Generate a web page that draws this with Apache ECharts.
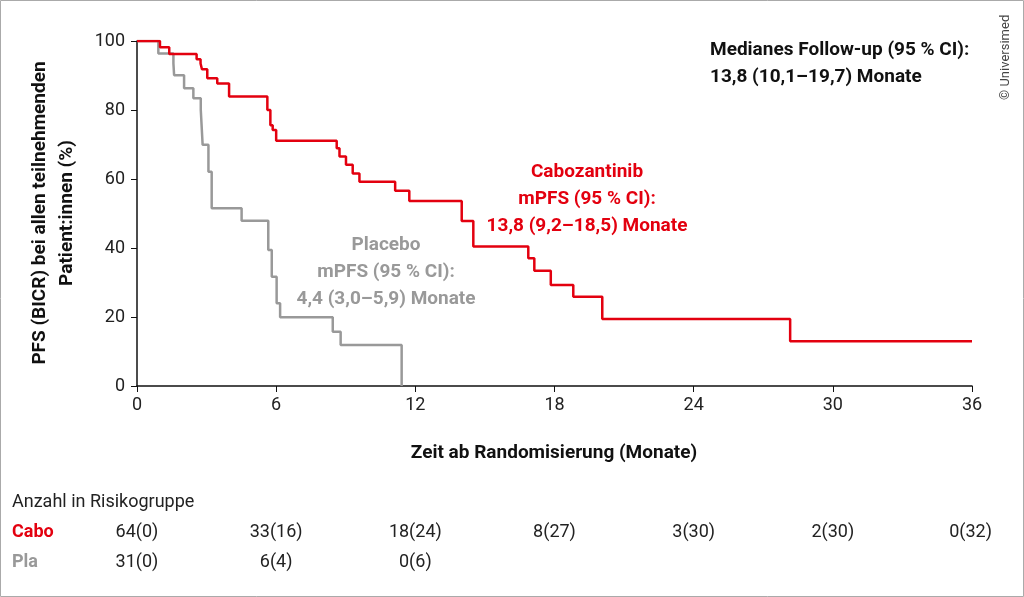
<!DOCTYPE html><html><head><meta charset="utf-8"><script src="https://cdn.jsdelivr.net/npm/echarts@6/dist/echarts.min.js"></script>
<style>body{margin:0}#c{width:1024px;height:597px}</style></head><body><div id="c"></div><script>
const caboT=[0,0.99,1.39,2.57,2.74,2.8,3.03,3.46,3.97,5.62,5.75,5.85,6.0,8.61,8.73,9.01,9.3,9.59,11.13,11.74,14.0,14.5,16.87,17.13,17.84,18.81,20.06,28.16,36];
const caboS=[100,98.2,96.2,94.7,93.5,91.8,89.2,87.7,83.9,80,75.6,74.2,71.1,68.9,66.5,64.1,61.6,59.2,56.6,53.6,47.8,40.4,37.0,33.4,29.3,25.9,19.4,13.0,13.0];
const plaT=[0,0.92,1.57,1.6,2.03,2.43,2.75,2.83,3.08,3.22,4.51,5.66,5.81,6.02,6.17,8.44,8.78,11.41];
const plaS=[100,96.4,93.5,90.1,86.3,83.4,80,69.9,62.1,51.5,47.9,39.4,31.7,24,19.9,15.7,11.9,0];
const xTicks=[0,6,12,18,24,30,36];
const caboRisk=['64(0)','33(16)','18(24)','8(27)','3(30)','2(30)','0(32)'];
const plaRisk=['31(0)','6(4)','0(6)'];
const F='Roboto';
const ch=echarts.init(document.getElementById('c'));
const g=[];
const px=m=>137+m*(835/36);
caboRisk.forEach((t,i)=>g.push({type:'text',style:{text:t,x:px(xTicks[i]),y:532,align:i==6?'right':'center',verticalAlign:'middle',font:'18px '+F,fill:'#222'},x:i==6?20:0}));
plaRisk.forEach((t,i)=>g.push({type:'text',style:{text:t,x:px(xTicks[i]),y:562,align:'center',verticalAlign:'middle',font:'18px '+F,fill:'#222'}}));
g.push({type:'text',style:{text:'Anzahl in Risikogruppe',x:12,y:502,verticalAlign:'middle',font:'18px '+F,fill:'#222'}});
g.push({type:'text',style:{text:'Cabo',x:12,y:532,verticalAlign:'middle',font:'bold 18px '+F,fill:'#e3000f'}});
g.push({type:'text',style:{text:'Pla',x:12,y:562,verticalAlign:'middle',font:'bold 18px '+F,fill:'#999'}});
g.push({type:'text',style:{text:'Medianes Follow-up (95 % CI):\n13,8 (10,1–19,7) Monate',x:710,y:37,lineHeight:27,font:'bold 19px '+F,fill:'#111'}});
g.push({type:'text',style:{text:'Cabozantinib\nmPFS (95 % CI):\n13,8 (9,2–18,5) Monate',x:587,y:159,align:'center',lineHeight:27,font:'bold 19px '+F,fill:'#e3000f'}});
g.push({type:'text',style:{text:'Placebo\nmPFS (95 % CI):\n4,4 (3,0–5,9) Monate',x:386,y:232,align:'center',lineHeight:27,font:'bold 19px '+F,fill:'#999'}});
g.push({type:'text',rotation:Math.PI/2,x:1006,y:100,style:{text:'© Universimed',verticalAlign:'middle',font:'13px '+F,fill:'#444'}});
g.push({type:'text',style:{text:'Zeit ab Randomisierung (Monate)',x:554,y:453,align:'center',verticalAlign:'middle',font:'bold 19px '+F,fill:'#111'}});
g.push({type:'text',rotation:Math.PI/2,x:54,y:213,style:{text:'PFS (BICR) bei allen teilnehmenden\nPatient:innen (%)',align:'center',verticalAlign:'middle',lineHeight:27,font:'bold 19px '+F,fill:'#111'}});
g.push({type:'rect',shape:{x:0.5,y:0.5,width:1023,height:596},style:{fill:'none',stroke:'#aaa',lineWidth:1}});
ch.setOption({animation:false,backgroundColor:'#fff',
grid:{left:137,right:52,top:41,bottom:211},
xAxis:{type:'value',min:0,max:36,interval:6,axisLine:{lineStyle:{color:'#111',width:1.5}},axisTick:{length:6,lineStyle:{color:'#111'}},splitLine:{show:false},axisLabel:{fontFamily:F,fontSize:18,color:'#222',margin:10}},
yAxis:{type:'value',min:0,max:100,interval:20,axisLine:{show:true,lineStyle:{color:'#111',width:1.5}},axisTick:{show:true,length:6,lineStyle:{color:'#111'}},splitLine:{show:false},axisLabel:{fontFamily:F,fontSize:18,color:'#222',margin:12}},
series:[
{type:'line',step:'end',symbol:'none',data:plaT.map((t,i)=>[t,plaS[i]]),lineStyle:{color:'#999',width:2.5}},
{type:'line',step:'end',symbol:'none',data:caboT.map((t,i)=>[t,caboS[i]]),lineStyle:{color:'#e3000f',width:2.5}}],
graphic:g});
</script></body></html>
